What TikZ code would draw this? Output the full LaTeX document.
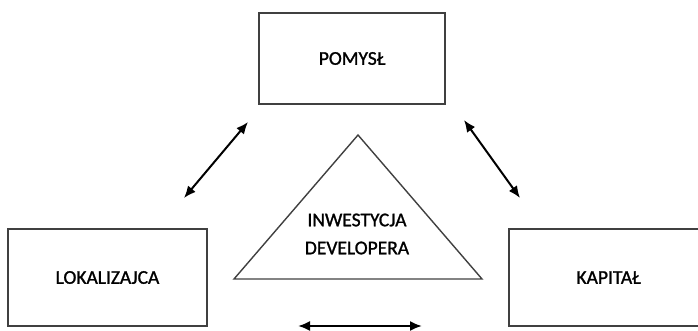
\documentclass[tikz,border=0pt]{standalone}
\usepackage{fontspec}
\setmainfont{Carlito}
\newfontfamily\boxfont{Carlito}[RawFeature={embolden=1.2}]
\usetikzlibrary{positioning, arrows.meta}

\begin{document}
\begin{tikzpicture}[x=1pt, y=-1pt,
        >={Latex[length=12pt,width=10pt]},
        box/.style = {rectangle, draw=#1, line width=1.4pt, inner sep=0pt,
                    minimum width=199pt, minimum height=97pt,
                    font=\boxfont\fontsize{19.5}{26}\selectfont},
        box/.default = black!75,
        link/.style = {<->, line width=2pt}
                    ]
        \useasboundingbox (0,0) rectangle (698,330);
        \clip (0,0) rectangle (698,330);
        \node (pomysl) [box, minimum width=186pt, minimum height=91pt] at (352,58.5) {POMYSŁ};
        \node (lok) [box] at (107.5,277.5) {LOKALIZAJCA};
        \node (kap) [box] at (608.5,277.5) {KAPITAŁ};
        %
        \coordinate (apex) at (358,135);
        \coordinate (bl) at (234,279);
        \coordinate (br) at (482,279);
        \draw[line width=1.4pt, black!75] (bl) -- (apex) -- (br) -- cycle;
        \node (inw) [align=center, font=\boxfont\fontsize{19.5}{28}\selectfont] at (357,234) {INWESTYCJA\\DEVELOPERA};
        %
        \coordinate (l1) at (248,122);
        \coordinate (l2) at (184,198);
        \coordinate (r1) at (464,120);
        \coordinate (r2) at (520,198);
        \coordinate (b1) at (298,326);
        \coordinate (b2) at (422,326);
        \draw[link] (l1) to (l2);
        \draw[link] (r1) to (r2);
        \draw[link] (b1) to (b2);
    \end{tikzpicture}
\end{document}
